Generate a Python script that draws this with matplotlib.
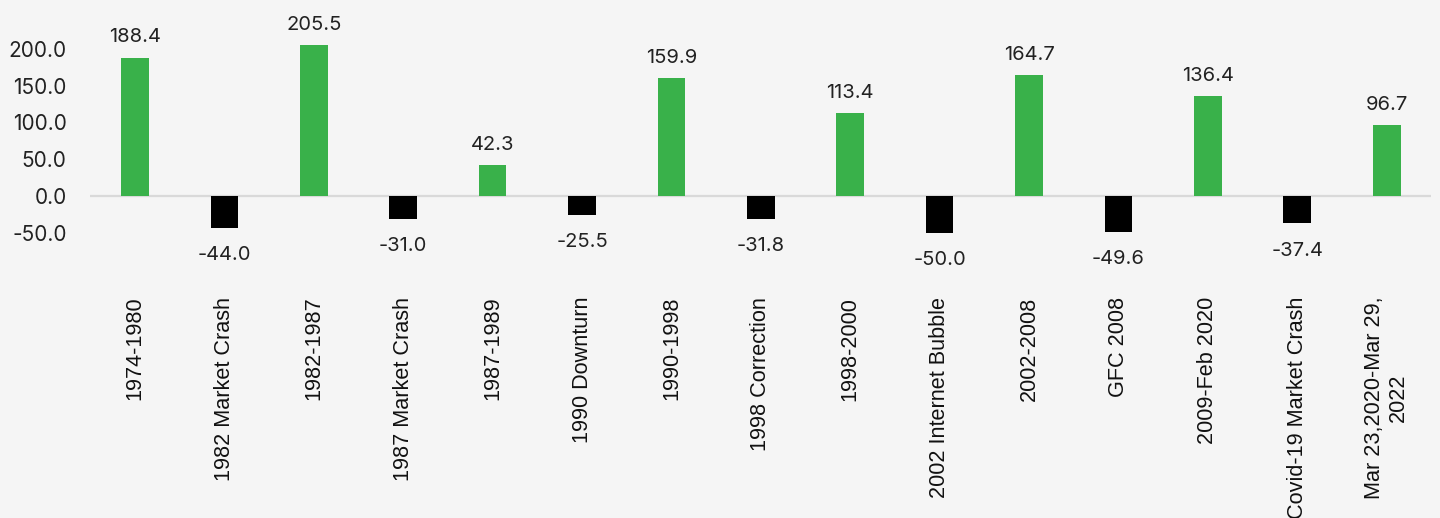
import matplotlib
matplotlib.use("Agg")
import matplotlib.pyplot as plt

categories = ["1974-1980", "1982 Market Crash", "1982-1987", "1987 Market Crash",
              "1987-1989", "1990 Downturn", "1990-1998", "1998 Correction",
              "1998-2000", "2002 Internet Bubble", "2002-2008", "GFC 2008",
              "2009-Feb 2020", "Covid-19 Market Crash", "Mar 23,2020-Mar 29,\n2022"]
values = [188.4, -44.0, 205.5, -31.0, 42.3, -25.5, 159.9, -31.8, 113.4, -50.0,
          164.7, -49.6, 136.4, -37.4, 96.7]
yticks = [-50, 0, 50, 100, 150, 200]

BG = "#f5f5f5"
GREEN = "#39b14a"
BLACK = "#000000"
num_font = "Inter"
lab_font = "Liberation Sans"

fig = plt.figure(figsize=(14.4, 5.18), dpi=100, facecolor=BG)
ax = fig.add_axes([0.0627, 0.5507, 0.9313, 0.3689], facecolor=BG)

x = list(range(len(categories)))
colors = [GREEN if v >= 0 else BLACK for v in values]
ax.bar(x, values, width=0.31, color=colors, zorder=2)
ax.axhline(0, color="#d9d9d9", lw=1.6, zorder=1)

ax.set_xlim(-0.5, len(categories) - 0.5)
ax.set_ylim(-50, 210)
ax.set_yticks(yticks)
ax.set_yticklabels([f"{v:.1f}" for v in yticks], fontsize=15, family=num_font, color="#222222")
ax.set_xticks(x)
ax.set_xticklabels(categories, rotation=90, fontsize=15.6, family=lab_font,
                   color="#111111", ha="center", va="top", multialignment="center")
ax.tick_params(axis="x", length=0, pad=46)
ax.tick_params(axis="y", length=0, pad=17)
for s in ax.spines.values():
    s.set_visible(False)

for xi, v in zip(x, values):
    if v >= 0:
        ax.annotate(f"{v:.1f}", (xi, v), xytext=(0, 8), textcoords="offset points",
                    ha="center", va="bottom", fontsize=14.5, family=num_font, color="#222222")
    else:
        ax.annotate(f"{v:.1f}", (xi, v), xytext=(0, -13), textcoords="offset points",
                    ha="center", va="top", fontsize=14.5, family=num_font, color="#222222")

fig.savefig("out.png", dpi=100, facecolor=BG)
